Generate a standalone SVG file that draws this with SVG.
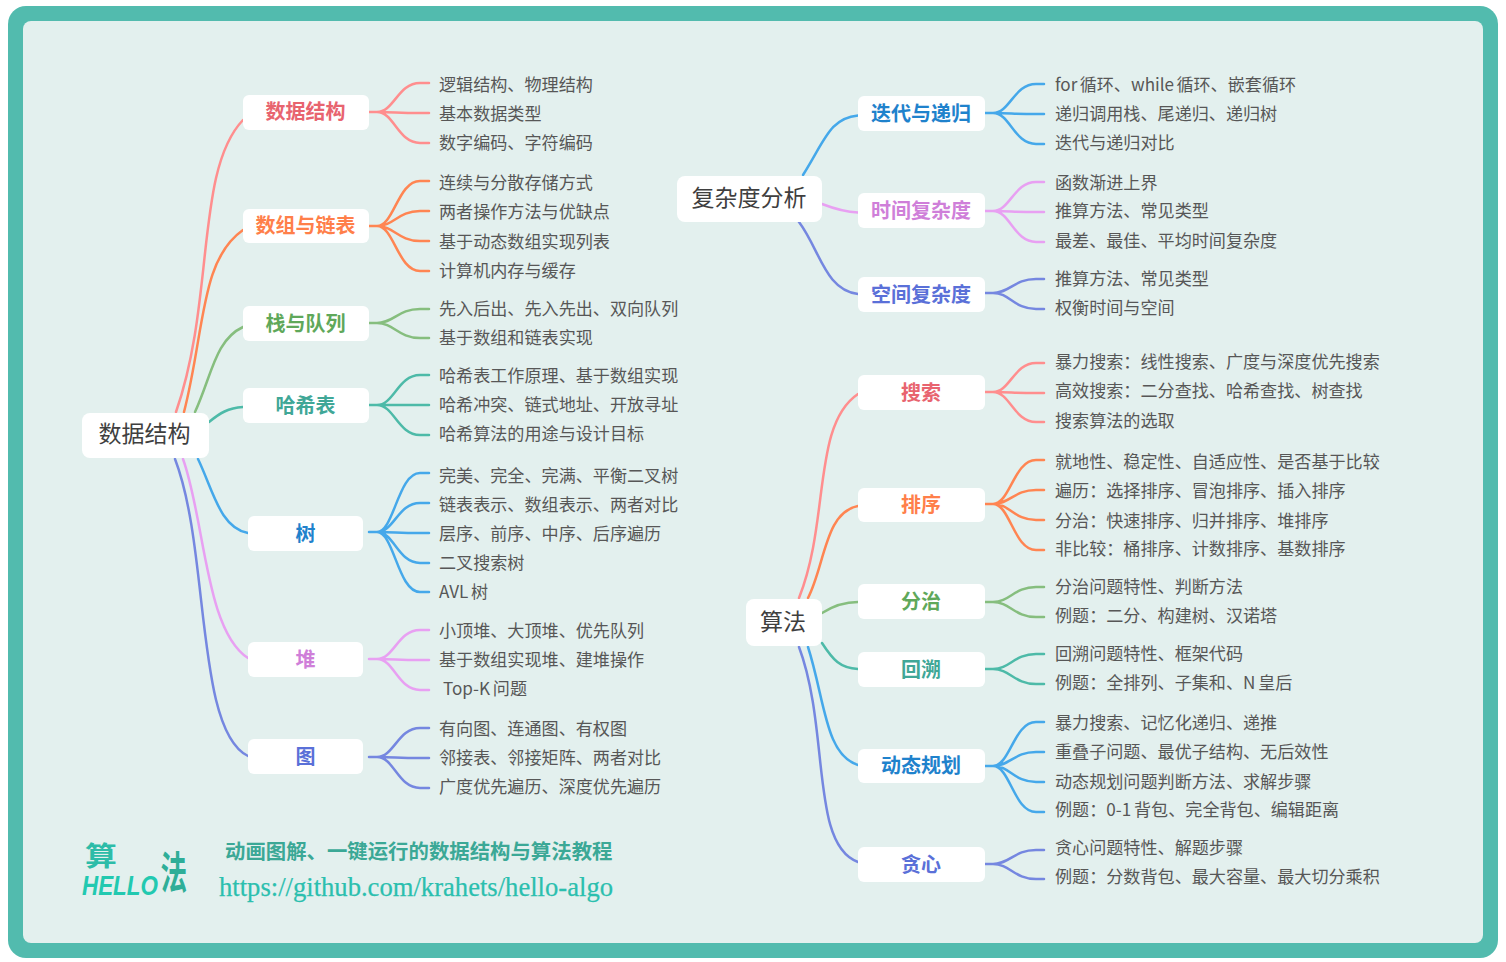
<svg xmlns="http://www.w3.org/2000/svg" width="1506" height="962" viewBox="0 0 1506 962">
<style>
text{font-family:"Noto Sans CJK SC","Noto Sans",sans-serif}
.box{fill:#fff}
.root{font-size:23px;fill:#3f3f3f;text-anchor:middle}
.topic{font-size:20px;font-weight:700;text-anchor:middle}
.leaf{font-size:17.100px;fill:#575757}
#connectors path{fill:none;stroke-width:2.500;stroke-linecap:round}
.s1{stroke:#FF8E8E}.s2{stroke:#FF8552}.s3{stroke:#86BE7E}.s4{stroke:#4DBAA8}.s5{stroke:#45A8EA}.s6{stroke:#E8A0F2}.s7{stroke:#7587E0}
.t1{fill:#E8646F}.t2{fill:#FF7F4A}.t3{fill:#5FA85A}.t4{fill:#40A797}.t5{fill:#1F82CC}.t6{fill:#CF7FD9}.t7{fill:#5A70D8}
</style>
<rect width="1506" height="962" fill="#fff"/>
<rect x="8" y="6" width="1490" height="952" rx="18" fill="#52BBAE"/>
<rect x="23" y="21" width="1460" height="922" rx="8" fill="#E3F0EE"/>
<g id="connectors">
<path class="s1" d="M176 412C215 300 195 170 243 120"/>
<path class="s2" d="M184 412C205 330 200 260 243 230"/>
<path class="s3" d="M195 412C212 375 215 340 243 327"/>
<path class="s4" d="M209 422C220 413 228 408 243 407"/>
<path class="s5" d="M198 459C213 490 220 528 248 533"/>
<path class="s6" d="M183 459C205 520 205 630 248 658"/>
<path class="s7" d="M175 459C210 550 195 730 248 756"/>
<path class="s5" d="M803 175C825 140 830 118 858 115.500"/>
<path class="s6" d="M822 204C835 209 845 212 858 212.500"/>
<path class="s7" d="M799 222C820 250 825 290 858 294"/>
<path class="s1" d="M799 598C830 520 812 425 858 394"/>
<path class="s2" d="M808 598C825 565 825 512 858 506"/>
<path class="s3" d="M822 613C833 606 843 602 858 602"/>
<path class="s4" d="M822 643C833 660 840 668 858 669"/>
<path class="s5" d="M808 647C825 700 825 755 858 765"/>
<path class="s7" d="M799 647C830 730 810 845 858 862"/>
<path class="s1" d="M369 112H377C394 112 398 83 420 83H429M369 112H377C394 112 398 113 420 113H429M369 112H377C394 112 398 143 420 143H429"/>
<path class="s2" d="M369 226H377C394 226 398 181 420 181H429M369 226H377C394 226 398 211 420 211H429M369 226H377C394 226 398 241 420 241H429M369 226H377C394 226 398 271 420 271H429"/>
<path class="s3" d="M369 323H377C394 323 398 309 420 309H429M369 323H377C394 323 398 338 420 338H429"/>
<path class="s4" d="M369 405H377C394 405 398 375 420 375H429M369 405H429M369 405H377C394 405 398 435 420 435H429"/>
<path class="s5" d="M369 532H377C394 532 398 473 420 473H429M369 532H377C394 532 398 503 420 503H429M369 532H377C394 532 398 533 420 533H429M369 532H377C394 532 398 563 420 563H429M369 532H377C394 532 398 592 420 592H429"/>
<path class="s6" d="M369 659H377C394 659 398 630 420 630H429M369 659H377C394 659 398 660 420 660H429M369 659H377C394 659 398 690 420 690H429"/>
<path class="s7" d="M369 757H377C394 757 398 728 420 728H429M369 757H377C394 757 398 758 420 758H429M369 757H377C394 757 398 788 420 788H429"/>
<path class="s5" d="M985 113H993C1010 113 1014 84 1036 84H1044M985 113H993C1010 113 1014 114 1036 114H1044M985 113H993C1010 113 1014 144 1036 144H1044"/>
<path class="s6" d="M985 211H993C1010 211 1014 182 1036 182H1044M985 211H993C1010 211 1014 212 1036 212H1044M985 211H993C1010 211 1014 242 1036 242H1044"/>
<path class="s7" d="M985 293H993C1010 293 1014 279 1036 279H1044M985 293H993C1010 293 1014 309 1036 309H1044"/>
<path class="s1" d="M985 392H993C1010 392 1014 363 1036 363H1044M985 392H993C1010 392 1014 393 1036 393H1044M985 392H993C1010 392 1014 422 1036 422H1044"/>
<path class="s2" d="M985 504H993C1010 504 1014 460 1036 460H1044M985 504H993C1010 504 1014 490 1036 490H1044M985 504H993C1010 504 1014 520 1036 520H1044M985 504H993C1010 504 1014 550 1036 550H1044"/>
<path class="s3" d="M985 602H993C1010 602 1014 587 1036 587H1044M985 602H993C1010 602 1014 617 1036 617H1044"/>
<path class="s4" d="M985 669H993C1010 669 1014 654 1036 654H1044M985 669H993C1010 669 1014 684 1036 684H1044"/>
<path class="s5" d="M985 766H993C1010 766 1014 722 1036 722H1044M985 766H993C1010 766 1014 752 1036 752H1044M985 766H993C1010 766 1014 782 1036 782H1044M985 766H993C1010 766 1014 812 1036 812H1044"/>
<path class="s7" d="M985 864H993C1010 864 1014 850 1036 850H1044M985 864H993C1010 864 1014 879 1036 879H1044"/>
</g>
<g id="root-ds"><rect class="box" x="82" y="413" width="127" height="45" rx="8"/><text class="root" x="144.500" y="442">数据结构</text></g>
<g id="root-complexity"><rect class="box" x="677" y="176" width="145" height="46" rx="8"/><text class="root" x="749" y="206">复杂度分析</text></g>
<g id="root-algo"><rect class="box" x="746" y="599" width="76" height="47" rx="8"/><text class="root" x="783" y="630">算法</text></g>
<g id="t-ds"><rect class="box" x="243" y="95" width="126" height="35" rx="6"/><text class="topic t1" x="305.500" y="119">数据结构</text></g>
<g id="t-array"><rect class="box" x="243" y="209" width="126" height="34" rx="6"/><text class="topic t2" x="305.500" y="232.500">数组与链表</text></g>
<g id="t-stack"><rect class="box" x="243" y="306" width="126" height="35" rx="6"/><text class="topic t3" x="305.500" y="330.500">栈与队列</text></g>
<g id="t-hash"><rect class="box" x="243" y="388" width="126" height="35" rx="6"/><text class="topic t4" x="305.500" y="412.500">哈希表</text></g>
<g id="t-tree"><rect class="box" x="248" y="516" width="115" height="35" rx="6"/><text class="topic t5" x="305.500" y="540.500">树</text></g>
<g id="t-heap"><rect class="box" x="248" y="642" width="115" height="35" rx="6"/><text class="topic t6" x="305.500" y="666.500">堆</text></g>
<g id="t-graph"><rect class="box" x="248" y="739" width="115" height="35" rx="6"/><text class="topic t7" x="305.500" y="763.500">图</text></g>
<g id="t-iter"><rect class="box" x="858" y="96" width="127" height="35" rx="6"/><text class="topic t5" x="921" y="121">迭代与递归</text></g>
<g id="t-time"><rect class="box" x="858" y="193" width="127" height="35" rx="6"/><text class="topic t6" x="921" y="218">时间复杂度</text></g>
<g id="t-space"><rect class="box" x="858" y="277" width="127" height="35" rx="6"/><text class="topic t7" x="921" y="301.500">空间复杂度</text></g>
<g id="t-search"><rect class="box" x="858" y="375" width="127" height="35" rx="6"/><text class="topic t1" x="921" y="399.500">搜索</text></g>
<g id="t-sort"><rect class="box" x="858" y="488" width="127" height="34" rx="6"/><text class="topic t2" x="921" y="512">排序</text></g>
<g id="t-dc"><rect class="box" x="858" y="584" width="127" height="35" rx="6"/><text class="topic t3" x="921" y="608.500">分治</text></g>
<g id="t-bt"><rect class="box" x="858" y="652" width="127" height="35" rx="6"/><text class="topic t4" x="921" y="676.500">回溯</text></g>
<g id="t-dp"><rect class="box" x="858" y="749" width="127" height="34" rx="6"/><text class="topic t5" x="921" y="773">动态规划</text></g>
<g id="t-greedy"><rect class="box" x="858" y="847" width="127" height="35" rx="6"/><text class="topic t7" x="921" y="871.500">贪心</text></g>
<g id="leaves-left">
<g id="l1"><text class="leaf" x="439" y="91">逻辑结构、物理结构</text></g>
<g id="l2"><text class="leaf" x="439" y="120">基本数据类型</text></g>
<g id="l3"><text class="leaf" x="439" y="149">数字编码、字符编码</text></g>
<g id="l4"><text class="leaf" x="439" y="189">连续与分散存储方式</text></g>
<g id="l5"><text class="leaf" x="439" y="218">两者操作方法与优缺点</text></g>
<g id="l6"><text class="leaf" x="439" y="248">基于动态数组实现列表</text></g>
<g id="l7"><text class="leaf" x="439" y="277">计算机内存与缓存</text></g>
<g id="l8"><text class="leaf" x="439" y="315">先入后出、先入先出、双向队列</text></g>
<g id="l9"><text class="leaf" x="439" y="344">基于数组和链表实现</text></g>
<g id="l10"><text class="leaf" x="439" y="382">哈希表工作原理、基于数组实现</text></g>
<g id="l11"><text class="leaf" x="439" y="411">哈希冲突、链式地址、开放寻址</text></g>
<g id="l12"><text class="leaf" x="439" y="440">哈希算法的用途与设计目标</text></g>
<g id="l13"><text class="leaf" x="439" y="482">完美、完全、完满、平衡二叉树</text></g>
<g id="l14"><text class="leaf" x="439" y="511">链表表示、数组表示、两者对比</text></g>
<g id="l15"><text class="leaf" x="439" y="540">层序、前序、中序、后序遍历</text></g>
<g id="l16"><text class="leaf" x="439" y="569">二叉搜索树</text></g>
<g id="l17"><text class="leaf" x="439" y="598" word-spacing="-1">AVL 树</text></g>
<g id="l18"><text class="leaf" x="439" y="637">小顶堆、大顶堆、优先队列</text></g>
<g id="l19"><text class="leaf" x="439" y="666">基于数组实现堆、建堆操作</text></g>
<g id="l20"><text class="leaf" x="443" y="695" word-spacing="-1">Top-K 问题</text></g>
<g id="l21"><text class="leaf" x="439" y="735">有向图、连通图、有权图</text></g>
<g id="l22"><text class="leaf" x="439" y="764">邻接表、邻接矩阵、两者对比</text></g>
<g id="l23"><text class="leaf" x="439" y="793">广度优先遍历、深度优先遍历</text></g>
</g>
<g id="leaves-right">
<g id="r1"><text class="leaf" x="1055" y="91" word-spacing="-1.500">for 循环、while 循环、嵌套循环</text></g>
<g id="r2"><text class="leaf" x="1055" y="120">递归调用栈、尾递归、递归树</text></g>
<g id="r3"><text class="leaf" x="1055" y="149">迭代与递归对比</text></g>
<g id="r4"><text class="leaf" x="1055" y="189">函数渐进上界</text></g>
<g id="r5"><text class="leaf" x="1055" y="217">推算方法、常见类型</text></g>
<g id="r6"><text class="leaf" x="1055" y="247">最差、最佳、平均时间复杂度</text></g>
<g id="r7"><text class="leaf" x="1055" y="285">推算方法、常见类型</text></g>
<g id="r8"><text class="leaf" x="1055" y="314">权衡时间与空间</text></g>
<g id="r9"><text class="leaf" x="1055" y="368">暴力搜索：线性搜索、广度与深度优先搜索</text></g>
<g id="r10"><text class="leaf" x="1055" y="397">高效搜索：二分查找、哈希查找、树查找</text></g>
<g id="r11"><text class="leaf" x="1055" y="427">搜索算法的选取</text></g>
<g id="r12"><text class="leaf" x="1055" y="468">就地性、稳定性、自适应性、是否基于比较</text></g>
<g id="r13"><text class="leaf" x="1055" y="497">遍历：选择排序、冒泡排序、插入排序</text></g>
<g id="r14"><text class="leaf" x="1055" y="527">分治：快速排序、归并排序、堆排序</text></g>
<g id="r15"><text class="leaf" x="1055" y="555">非比较：桶排序、计数排序、基数排序</text></g>
<g id="r16"><text class="leaf" x="1055" y="593">分治问题特性、判断方法</text></g>
<g id="r17"><text class="leaf" x="1055" y="622">例题：二分、构建树、汉诺塔</text></g>
<g id="r18"><text class="leaf" x="1055" y="660">回溯问题特性、框架代码</text></g>
<g id="r19"><text class="leaf" x="1055" y="689" word-spacing="-1">例题：全排列、子集和、N 皇后</text></g>
<g id="r20"><text class="leaf" x="1055" y="729">暴力搜索、记忆化递归、递推</text></g>
<g id="r21"><text class="leaf" x="1055" y="758">重叠子问题、最优子结构、无后效性</text></g>
<g id="r22"><text class="leaf" x="1055" y="788">动态规划问题判断方法、求解步骤</text></g>
<g id="r23"><text class="leaf" x="1055" y="816" word-spacing="-1">例题：0-1 背包、完全背包、编辑距离</text></g>
<g id="r24"><text class="leaf" x="1055" y="854">贪心问题特性、解题步骤</text></g>
<g id="r25"><text class="leaf" x="1055" y="883">例题：分数背包、最大容量、最大切分乘积</text></g>
</g>
<g id="footer">
<text transform="translate(85 866) scale(1.180 1)" font-size="27" font-weight="700" fill="#2DBCA8">算</text>
<text transform="translate(160.500 889) scale(.950 1.600)" font-size="28" font-weight="700" fill="#2FAE98">法</text>
<text transform="translate(82 895) scale(.830 1)" font-size="27" font-weight="700" font-style="italic" fill="#22C9B0" style="font-family:'Liberation Sans',sans-serif">HELLO</text>
<text x="225" y="859" font-size="20.400px" font-weight="700" fill="#3BA896">动画图解、一键运行的数据结构与算法教程</text>
<text x="219" y="896" font-size="27" fill="#2BBFAE" stroke="#2BBFAE" stroke-width=".25" textLength="394" lengthAdjust="spacingAndGlyphs" style="font-family:'Liberation Serif',serif">https://github.com/krahets/hello-algo</text>
</g>
</svg>
